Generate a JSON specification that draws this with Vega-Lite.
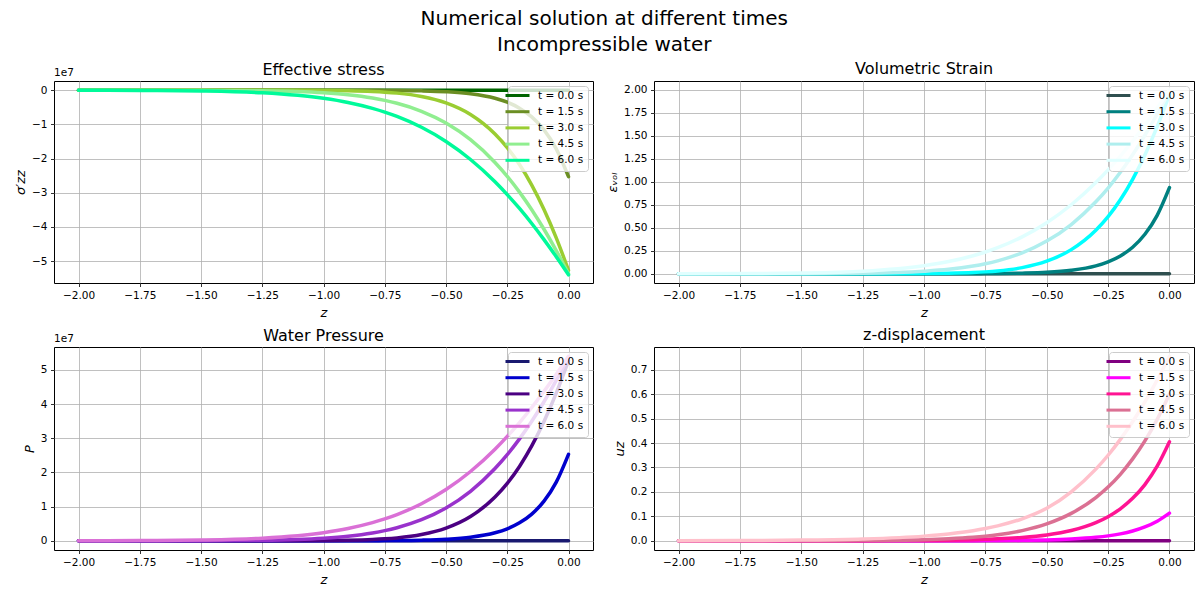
{
  "$schema": "https://vega.github.io/schema/vega-lite/v6.json",
  "autosize": {"type": "pad"},
  "padding": {"left": 14, "top": 8, "right": 1, "bottom": 4},
  "background": "white",
  "title": {"text": ["Numerical solution at different times", "Incompressible water"], "fontSize": 20, "font": "DejaVu Sans", "fontWeight": "normal", "lineHeight": 26, "anchor": "middle", "offset": 6, "color": "black"},
  "datasets": {
    "d": [
      {"z": -2, "t": "t = 0.0 s", "sig": 0, "eps": 0, "P": 0, "u": 0},
      {"z": -1.75, "t": "t = 0.0 s", "sig": 0, "eps": 0, "P": 0, "u": 0},
      {"z": -1.5, "t": "t = 0.0 s", "sig": 0, "eps": 0, "P": 0, "u": 0},
      {"z": -1.25, "t": "t = 0.0 s", "sig": 0, "eps": 0, "P": 0, "u": 0},
      {"z": -1, "t": "t = 0.0 s", "sig": 0, "eps": 0, "P": 0, "u": 0},
      {"z": -0.75, "t": "t = 0.0 s", "sig": 0, "eps": 0, "P": 0, "u": 0},
      {"z": -0.5, "t": "t = 0.0 s", "sig": 0, "eps": 0, "P": 0, "u": 0},
      {"z": -0.25, "t": "t = 0.0 s", "sig": 0, "eps": 0, "P": 0, "u": 0},
      {"z": 0, "t": "t = 0.0 s", "sig": 0, "eps": 0, "P": 0, "u": 0},

      {"z": -2, "t": "t = 1.5 s", "sig": 0, "eps": 0, "P": 0, "u": 0},
      {"z": -1.75, "t": "t = 1.5 s", "sig": 0, "eps": 0, "P": 0, "u": 0},
      {"z": -1.5, "t": "t = 1.5 s", "sig": 0, "eps": 0, "P": 0, "u": 0},
      {"z": -1.25, "t": "t = 1.5 s", "sig": 0, "eps": 0, "P": 0, "u": 0},
      {"z": -1, "t": "t = 1.5 s", "sig": -5e3, "eps": 0.0002, "P": 5e3, "u": 0.0001},
      {"z": -0.9, "t": "t = 1.5 s", "sig": -1.3e4, "eps": 0.0005, "P": 1.3e4, "u": 0.0002},
      {"z": -0.8, "t": "t = 1.5 s", "sig": -3.3e4, "eps": 0.001, "P": 3.3e4, "u": 0.0004},
      {"z": -0.75, "t": "t = 1.5 s", "sig": -5.1e4, "eps": 0.002, "P": 5.1e4, "u": 0.0006},
      {"z": -0.7, "t": "t = 1.5 s", "sig": -7.9e4, "eps": 0.003, "P": 7.9e4, "u": 0.0009},
      {"z": -0.6, "t": "t = 1.5 s", "sig": -1.88e5, "eps": 0.007, "P": 1.88e5, "u": 0.0018},
      {"z": -0.5, "t": "t = 1.5 s", "sig": -4.41e5, "eps": 0.016, "P": 4.41e5, "u": 0.0035},
      {"z": -0.4, "t": "t = 1.5 s", "sig": -1.02e6, "eps": 0.038, "P": 1.02e6, "u": 0.0071},
      {"z": -0.3, "t": "t = 1.5 s", "sig": -2.33e6, "eps": 0.086, "P": 2.33e6, "u": 0.0141},
      {"z": -0.25, "t": "t = 1.5 s", "sig": -3.5e6, "eps": 0.13, "P": 3.5e6, "u": 0.02},
      {"z": -0.2, "t": "t = 1.5 s", "sig": -5.24e6, "eps": 0.194, "P": 5.24e6, "u": 0.0283},
      {"z": -0.15, "t": "t = 1.5 s", "sig": -7.81e6, "eps": 0.289, "P": 7.81e6, "u": 0.0399},
      {"z": -0.1, "t": "t = 1.5 s", "sig": -1.16e7, "eps": 0.43, "P": 1.16e7, "u": 0.0565},
      {"z": -0.05, "t": "t = 1.5 s", "sig": -1.716e7, "eps": 0.636, "P": 1.716e7, "u": 0.0799},
      {"z": 0, "t": "t = 1.5 s", "sig": -2.53e7, "eps": 0.937, "P": 2.53e7, "u": 0.113},

      {"z": -2, "t": "t = 3.0 s", "sig": 0, "eps": 0, "P": 0, "u": 0},
      {"z": -1.75, "t": "t = 3.0 s", "sig": 0, "eps": 0, "P": 0, "u": 0},
      {"z": -1.5, "t": "t = 3.0 s", "sig": 0, "eps": 0, "P": 0, "u": 0},
      {"z": -1.25, "t": "t = 3.0 s", "sig": -3e3, "eps": 0.0001, "P": 3e3, "u": 0.0003},
      {"z": -1, "t": "t = 3.0 s", "sig": -5.9e4, "eps": 0.002, "P": 5.9e4, "u": 0.0014},
      {"z": -0.9, "t": "t = 3.0 s", "sig": -1.52e5, "eps": 0.006, "P": 1.52e5, "u": 0.0025},
      {"z": -0.8, "t": "t = 3.0 s", "sig": -3.7e5, "eps": 0.014, "P": 3.7e5, "u": 0.0044},
      {"z": -0.75, "t": "t = 3.0 s", "sig": -5.63e5, "eps": 0.021, "P": 5.63e5, "u": 0.0059},
      {"z": -0.7, "t": "t = 3.0 s", "sig": -8.45e5, "eps": 0.031, "P": 8.45e5, "u": 0.0078},
      {"z": -0.6, "t": "t = 3.0 s", "sig": -1.82e6, "eps": 0.067, "P": 1.82e6, "u": 0.0137},
      {"z": -0.5, "t": "t = 3.0 s", "sig": -3.7e6, "eps": 0.137, "P": 3.7e6, "u": 0.024},
      {"z": -0.4, "t": "t = 3.0 s", "sig": -7.09e6, "eps": 0.263, "P": 7.09e6, "u": 0.0422},
      {"z": -0.3, "t": "t = 3.0 s", "sig": -1.279e7, "eps": 0.474, "P": 1.279e7, "u": 0.0744},
      {"z": -0.25, "t": "t = 3.0 s", "sig": -1.68e7, "eps": 0.622, "P": 1.68e7, "u": 0.0986},
      {"z": -0.2, "t": "t = 3.0 s", "sig": -2.175e7, "eps": 0.806, "P": 2.175e7, "u": 0.1308},
      {"z": -0.15, "t": "t = 3.0 s", "sig": -2.775e7, "eps": 1.028, "P": 2.775e7, "u": 0.1735},
      {"z": -0.1, "t": "t = 3.0 s", "sig": -3.488e7, "eps": 1.292, "P": 3.488e7, "u": 0.23},
      {"z": -0.05, "t": "t = 3.0 s", "sig": -4.319e7, "eps": 1.6, "P": 4.319e7, "u": 0.305},
      {"z": 0, "t": "t = 3.0 s", "sig": -5.27e7, "eps": 1.952, "P": 5.27e7, "u": 0.405},

      {"z": -2, "t": "t = 4.5 s", "sig": 0, "eps": 0, "P": 0, "u": 0},
      {"z": -1.75, "t": "t = 4.5 s", "sig": -1e3, "eps": 0, "P": 1e3, "u": 0},
      {"z": -1.5, "t": "t = 4.5 s", "sig": -2.5e4, "eps": 0.0009, "P": 2.5e4, "u": 0.0001},
      {"z": -1.25, "t": "t = 4.5 s", "sig": -1.52e5, "eps": 0.0056, "P": 1.52e5, "u": 0.0008},
      {"z": -1, "t": "t = 4.5 s", "sig": -7.5e5, "eps": 0.028, "P": 7.5e5, "u": 0.0042},
      {"z": -0.9, "t": "t = 4.5 s", "sig": -1.33e6, "eps": 0.049, "P": 1.33e6, "u": 0.0078},
      {"z": -0.8, "t": "t = 4.5 s", "sig": -2.29e6, "eps": 0.085, "P": 2.29e6, "u": 0.0139},
      {"z": -0.75, "t": "t = 4.5 s", "sig": -2.97e6, "eps": 0.11, "P": 2.97e6, "u": 0.0185},
      {"z": -0.7, "t": "t = 4.5 s", "sig": -3.82e6, "eps": 0.141, "P": 3.82e6, "u": 0.0243},
      {"z": -0.6, "t": "t = 4.5 s", "sig": -6.16e6, "eps": 0.228, "P": 6.16e6, "u": 0.0415},
      {"z": -0.5, "t": "t = 4.5 s", "sig": -9.6e6, "eps": 0.356, "P": 9.6e6, "u": 0.069},
      {"z": -0.4, "t": "t = 4.5 s", "sig": -1.448e7, "eps": 0.536, "P": 1.448e7, "u": 0.112},
      {"z": -0.3, "t": "t = 4.5 s", "sig": -2.113e7, "eps": 0.783, "P": 2.113e7, "u": 0.177},
      {"z": -0.25, "t": "t = 4.5 s", "sig": -2.52e7, "eps": 0.933, "P": 2.52e7, "u": 0.22},
      {"z": -0.2, "t": "t = 4.5 s", "sig": -2.981e7, "eps": 1.104, "P": 2.981e7, "u": 0.272},
      {"z": -0.15, "t": "t = 4.5 s", "sig": -3.497e7, "eps": 1.295, "P": 3.497e7, "u": 0.335},
      {"z": -0.1, "t": "t = 4.5 s", "sig": -4.068e7, "eps": 1.507, "P": 4.068e7, "u": 0.409},
      {"z": -0.05, "t": "t = 4.5 s", "sig": -4.693e7, "eps": 1.738, "P": 4.693e7, "u": 0.497},
      {"z": 0, "t": "t = 4.5 s", "sig": -5.37e7, "eps": 1.989, "P": 5.37e7, "u": 0.6},

      {"z": -2, "t": "t = 6.0 s", "sig": -1.1e4, "eps": 0.0004, "P": 1.1e4, "u": 0.0004},
      {"z": -1.75, "t": "t = 6.0 s", "sig": -5.2e4, "eps": 0.002, "P": 5.2e4, "u": 0.001},
      {"z": -1.5, "t": "t = 6.0 s", "sig": -2.14e5, "eps": 0.008, "P": 2.14e5, "u": 0.0027},
      {"z": -1.25, "t": "t = 6.0 s", "sig": -7.64e5, "eps": 0.028, "P": 7.64e5, "u": 0.0072},
      {"z": -1, "t": "t = 6.0 s", "sig": -2.37e6, "eps": 0.088, "P": 2.37e6, "u": 0.019},
      {"z": -0.9, "t": "t = 6.0 s", "sig": -3.59e6, "eps": 0.133, "P": 3.59e6, "u": 0.028},
      {"z": -0.8, "t": "t = 6.0 s", "sig": -5.31e6, "eps": 0.197, "P": 5.31e6, "u": 0.041},
      {"z": -0.75, "t": "t = 6.0 s", "sig": -6.4e6, "eps": 0.237, "P": 6.4e6, "u": 0.05},
      {"z": -0.7, "t": "t = 6.0 s", "sig": -7.67e6, "eps": 0.284, "P": 7.67e6, "u": 0.061},
      {"z": -0.6, "t": "t = 6.0 s", "sig": -1.085e7, "eps": 0.402, "P": 1.085e7, "u": 0.09},
      {"z": -0.5, "t": "t = 6.0 s", "sig": -1.5e7, "eps": 0.556, "P": 1.5e7, "u": 0.133},
      {"z": -0.4, "t": "t = 6.0 s", "sig": -2.027e7, "eps": 0.751, "P": 2.027e7, "u": 0.2005},
      {"z": -0.3, "t": "t = 6.0 s", "sig": -2.678e7, "eps": 0.992, "P": 2.678e7, "u": 0.293},
      {"z": -0.25, "t": "t = 6.0 s", "sig": -3.053e7, "eps": 1.131, "P": 3.053e7, "u": 0.35},
      {"z": -0.2, "t": "t = 6.0 s", "sig": -3.46e7, "eps": 1.281, "P": 3.46e7, "u": 0.415},
      {"z": -0.15, "t": "t = 6.0 s", "sig": -3.9e7, "eps": 1.444, "P": 3.9e7, "u": 0.487},
      {"z": -0.1, "t": "t = 6.0 s", "sig": -4.372e7, "eps": 1.619, "P": 4.372e7, "u": 0.568},
      {"z": -0.05, "t": "t = 6.0 s", "sig": -4.872e7, "eps": 1.804, "P": 4.872e7, "u": 0.658},
      {"z": 0, "t": "t = 6.0 s", "sig": -5.4e7, "eps": 2.0, "P": 5.4e7, "u": 0.755}
    ],
    "off": [{"label": "1e7"}]
  },
  "columns": 2,
  "spacing": {"row": 6, "column": 12},
  "concat": [
    {
      "width": 539, "height": 202,
      "title": {"text": "Effective stress", "frame": "group", "offset": -10},
      "layer": [
        {
          "data": {"name": "d"},
          "mark": {"type": "line", "strokeWidth": 3.5, "interpolate": "monotone", "strokeCap": "round", "clip": true},
          "encoding": {
            "x": {"field": "z", "type": "quantitative", "scale": {"domain": [-2.1, 0.1], "nice": false, "zero": false},
                  "axis": {"values": [-2, -1.75, -1.5, -1.25, -1, -0.75, -0.5, -0.25, 0], "format": ".2f", "title": "z"}},
            "y": {"field": "sig", "type": "quantitative", "scale": {"domain": [-5.64e7, 0.27e7], "nice": false, "zero": false},
                  "axis": {"values": [0, -1e7, -2e7, -3e7, -4e7, -5e7], "labelExpr": "format(datum.value/1e7, 'd')", "title": "σ′zz"}},
            "color": {"field": "t", "type": "nominal",
                      "scale": {"domain": ["t = 0.0 s", "t = 1.5 s", "t = 3.0 s", "t = 4.5 s", "t = 6.0 s"], "range": ["#006400", "#6b8e23", "#9acd32", "#90ee90", "#00fa9a"]},
                      "legend": {"title": null}}
          }
        },
        {
          "data": {"name": "off"},
          "mark": {"type": "text", "align": "left", "baseline": "bottom", "dy": -3, "fontSize": 10.5, "font": "DejaVu Sans", "color": "black", "clip": false},
          "encoding": {"x": {"datum": -2.1}, "y": {"datum": 0.27e7}, "text": {"field": "label"}}
        }
      ]
    },
    {
      "width": 540, "height": 202,
      "title": {"text": "Volumetric Strain", "frame": "group", "offset": 4},
      "data": {"name": "d"},
      "mark": {"type": "line", "strokeWidth": 3.5, "interpolate": "monotone", "strokeCap": "round", "clip": true},
      "encoding": {
        "x": {"field": "z", "type": "quantitative", "scale": {"domain": [-2.1, 0.1], "nice": false, "zero": false},
              "axis": {"values": [-2, -1.75, -1.5, -1.25, -1, -0.75, -0.5, -0.25, 0], "format": ".2f", "title": "z"}},
        "y": {"field": "eps", "type": "quantitative", "scale": {"domain": [-0.1, 2.097], "nice": false, "zero": false},
              "axis": {"values": [0, 0.25, 0.5, 0.75, 1, 1.25, 1.5, 1.75, 2], "format": ".2f", "title": "εᵥₒₗ"}},
        "color": {"field": "t", "type": "nominal",
                  "scale": {"domain": ["t = 0.0 s", "t = 1.5 s", "t = 3.0 s", "t = 4.5 s", "t = 6.0 s"], "range": ["#2f4f4f", "#008080", "#00ffff", "#afeeee", "#e0ffff"]},
                  "legend": {"title": null}}
      }
    },
    {
      "width": 539, "height": 203,
      "title": {"text": "Water Pressure", "frame": "group", "offset": -10},
      "layer": [
        {
          "data": {"name": "d"},
          "mark": {"type": "line", "strokeWidth": 3.5, "interpolate": "monotone", "strokeCap": "round", "clip": true},
          "encoding": {
            "x": {"field": "z", "type": "quantitative", "scale": {"domain": [-2.1, 0.1], "nice": false, "zero": false},
                  "axis": {"values": [-2, -1.75, -1.5, -1.25, -1, -0.75, -0.5, -0.25, 0], "format": ".2f", "title": "z"}},
            "y": {"field": "P", "type": "quantitative", "scale": {"domain": [-0.27e7, 5.67e7], "nice": false, "zero": false},
                  "axis": {"values": [0, 1e7, 2e7, 3e7, 4e7, 5e7], "labelExpr": "format(datum.value/1e7, 'd')", "title": "P"}},
            "color": {"field": "t", "type": "nominal",
                      "scale": {"domain": ["t = 0.0 s", "t = 1.5 s", "t = 3.0 s", "t = 4.5 s", "t = 6.0 s"], "range": ["#191970", "#0000cd", "#4b0082", "#9932cc", "#da70d6"]},
                      "legend": {"title": null}}
          }
        },
        {
          "data": {"name": "off"},
          "mark": {"type": "text", "align": "left", "baseline": "bottom", "dy": -3, "fontSize": 10.5, "font": "DejaVu Sans", "color": "black", "clip": false},
          "encoding": {"x": {"datum": -2.1}, "y": {"datum": 5.67e7}, "text": {"field": "label"}}
        }
      ]
    },
    {
      "width": 540, "height": 203,
      "title": {"text": "z-displacement", "frame": "group", "offset": 4},
      "data": {"name": "d"},
      "mark": {"type": "line", "strokeWidth": 3.5, "interpolate": "monotone", "strokeCap": "round", "clip": true},
      "encoding": {
        "x": {"field": "z", "type": "quantitative", "scale": {"domain": [-2.1, 0.1], "nice": false, "zero": false},
              "axis": {"values": [-2, -1.75, -1.5, -1.25, -1, -0.75, -0.5, -0.25, 0], "format": ".2f", "title": "z"}},
        "y": {"field": "u", "type": "quantitative", "scale": {"domain": [-0.0378, 0.793], "nice": false, "zero": false},
              "axis": {"values": [0, 0.1, 0.2, 0.3, 0.4, 0.5, 0.6, 0.7], "format": ".1f", "title": "uz"}},
        "color": {"field": "t", "type": "nominal",
                  "scale": {"domain": ["t = 0.0 s", "t = 1.5 s", "t = 3.0 s", "t = 4.5 s", "t = 6.0 s"], "range": ["#800080", "#ff00ff", "#ff1493", "#db7093", "#ffc0cb"]},
                  "legend": {"title": null}}
      }
    }
  ],
  "resolve": {"scale": {"color": "independent", "x": "independent", "y": "independent"}, "legend": {"color": "independent"}},
  "config": {
    "font": "DejaVu Sans",
    "view": {"stroke": "black", "strokeWidth": 1},
    "axis": {"domain": false, "grid": true, "gridColor": "#b0b0b0", "gridWidth": 0.8, "tickColor": "black", "tickSize": 3.5, "tickWidth": 0.8,
             "labelFont": "DejaVu Sans", "labelFontSize": 10.5, "labelColor": "black", "labelPadding": 3.5,
             "titleFont": "DejaVu Sans", "titleFontSize": 13, "titleFontWeight": "normal", "titleColor": "black", "titlePadding": 4, "titleFontStyle": "italic"},
    "axisX": {"titlePadding": 6},
    "title": {"font": "DejaVu Sans", "fontSize": 16, "fontWeight": "normal", "color": "black"},
    "legend": {"orient": "top-right", "offset": 5, "fillColor": "rgba(255,255,255,0.8)", "strokeColor": "#cccccc", "cornerRadius": 3, "padding": 4,
               "labelFont": "DejaVu Sans", "labelFontSize": 10.5, "labelColor": "black", "symbolType": "M-3,0H3", "symbolSize": 64, "symbolStrokeWidth": 3,
               "labelOffset": 15, "rowPadding": 3.2}
  }
}
